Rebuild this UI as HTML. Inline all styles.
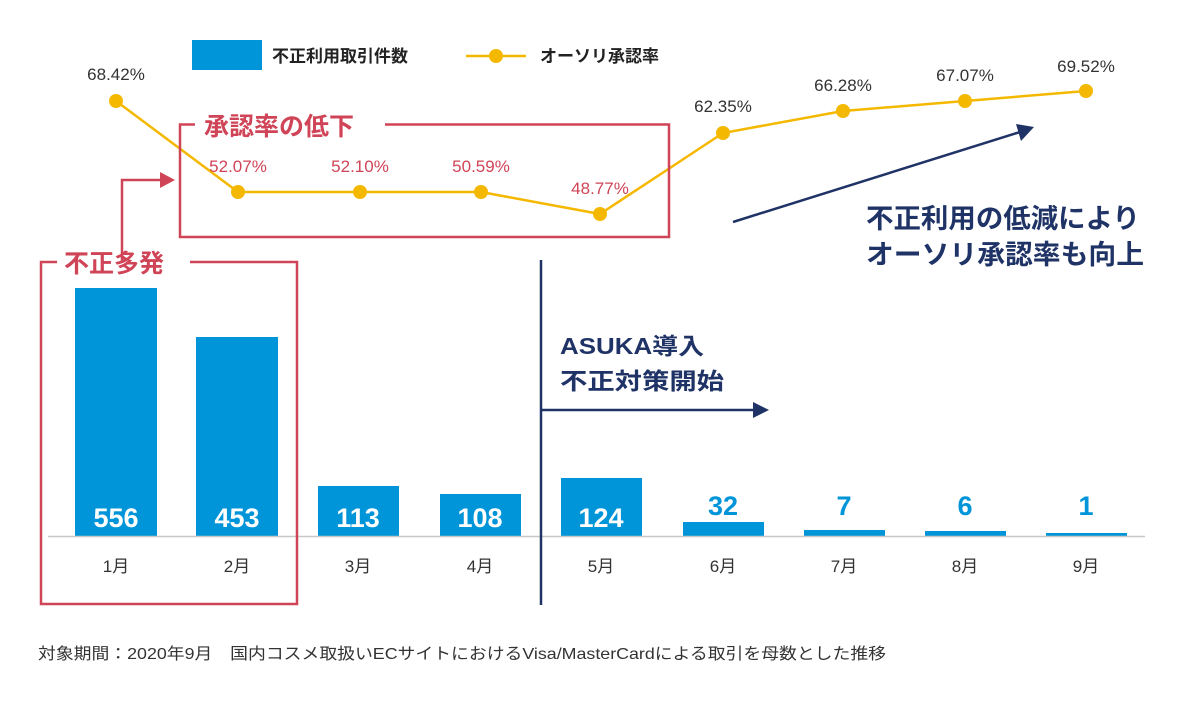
<!DOCTYPE html>
<html><head><meta charset="utf-8"><style>
body{margin:0;background:#fff;width:1200px;height:700px;overflow:hidden}
svg text{font-family:"Liberation Sans","Noto Sans CJK JP",sans-serif}
</style></head><body>
<svg width="1200" height="700" viewBox="0 0 1200 700">
<g fill="#0094d8">
<rect x="75" y="288" width="82" height="248"/>
<rect x="196" y="337" width="82" height="199"/>
<rect x="318" y="486" width="81" height="50"/>
<rect x="440" y="494" width="81" height="42"/>
<rect x="561" y="478" width="81" height="58"/>
<rect x="683" y="522" width="81" height="14"/>
<rect x="804" y="530" width="81" height="6"/>
<rect x="925" y="531" width="81" height="5"/>
<rect x="1046" y="533" width="81" height="3"/>
</g>
<line x1="48" y1="536.5" x2="1145" y2="536.5" stroke="#c8c8c8" stroke-width="1.5"/>
<g font-size="27" font-weight="bold" fill="#fff" text-anchor="middle">
<text x="116" y="527">556</text><text x="237" y="527">453</text><text x="358" y="527">113</text><text x="480" y="527">108</text><text x="601" y="527">124</text>
</g>
<g font-size="27" font-weight="bold" fill="#0094d8" text-anchor="middle">
<text x="723" y="515">32</text><text x="844" y="515">7</text><text x="965" y="515">6</text><text x="1086" y="515">1</text>
</g>
<g font-size="17" fill="#333" text-anchor="middle">
<text x="116" y="572">1月</text><text x="237" y="572">2月</text><text x="358" y="572">3月</text><text x="480" y="572">4月</text><text x="601" y="572">5月</text><text x="723" y="572">6月</text><text x="844" y="572">7月</text><text x="965" y="572">8月</text><text x="1086" y="572">9月</text>
</g>
<polyline points="116,101 238,192 360,192 481,192 600,214 723,133 843,111 965,101 1086,91" fill="none" stroke="#f5b800" stroke-width="2.5"/>
<g fill="#f5b800">
<circle cx="116" cy="101" r="7"/><circle cx="238" cy="192" r="7"/><circle cx="360" cy="192" r="7"/><circle cx="481" cy="192" r="7"/><circle cx="600" cy="214" r="7"/><circle cx="723" cy="133" r="7"/><circle cx="843" cy="111" r="7"/><circle cx="965" cy="101" r="7"/><circle cx="1086" cy="91" r="7"/>
</g>
<g font-size="17" text-anchor="middle" fill="#333">
<text x="116" y="80">68.42%</text><text x="723" y="112">62.35%</text><text x="843" y="91">66.28%</text><text x="965" y="81">67.07%</text><text x="1086" y="72">69.52%</text>
</g>
<g font-size="17" text-anchor="middle" fill="#d04457">
<text x="238" y="172">52.07%</text><text x="360" y="172">52.10%</text><text x="481" y="172">50.59%</text><text x="600" y="194">48.77%</text>
</g>
<g fill="none" stroke="#d04457" stroke-width="2.5">
<polyline points="195,124.5 180,124.5 180,237 669,237 669,124.5 385,124.5"/>
<polyline points="57,262 41,262 41,604 297,604 297,262 190,262"/>
<polyline points="122,262 122,180 162,180"/>
</g>
<polygon points="175,180 160,172 160,188" fill="#d04457"/>
<g font-size="25" font-weight="bold" fill="#d04457">
<text x="204" y="135">承認率の低下</text>
<text x="64" y="272">不正多発</text>
</g>
<line x1="541" y1="260" x2="541" y2="605" stroke="#1f3366" stroke-width="2.5"/>
<line x1="541" y1="410" x2="755" y2="410" stroke="#1f3366" stroke-width="2.5"/>
<polygon points="769,410 753,402 753,418" fill="#1f3366"/>
<line x1="733" y1="222" x2="1020" y2="132" stroke="#1f3366" stroke-width="2.5"/>
<polygon points="1034,127 1016,124 1021,141" fill="#1f3366"/>
<g font-size="23" font-weight="bold" fill="#1f3366">
<text x="560" y="354" textLength="144" lengthAdjust="spacingAndGlyphs">ASUKA導入</text>
<text x="560" y="389" textLength="164" lengthAdjust="spacingAndGlyphs">不正対策開始</text>
</g>
<g font-size="27" font-weight="bold" fill="#1f3366">
<text x="866" y="228" textLength="274" lengthAdjust="spacingAndGlyphs">不正利用の低減により</text>
<text x="866" y="264" textLength="278" lengthAdjust="spacingAndGlyphs">オーソリ承認率も向上</text>
</g>
<rect x="192" y="40" width="70" height="30" fill="#0094d8"/>
<text x="272" y="62" font-size="17" font-weight="bold" fill="#222">不正利用取引件数</text>
<line x1="466" y1="56" x2="526" y2="56" stroke="#f5b800" stroke-width="2.5"/>
<circle cx="496" cy="56" r="7" fill="#f5b800"/>
<text x="540" y="62" font-size="17" font-weight="bold" fill="#222">オーソリ承認率</text>
<text x="38" y="659" font-size="16" fill="#333" textLength="848" lengthAdjust="spacingAndGlyphs">対象期間：2020年9月　国内コスメ取扱いECサイトにおけるVisa/MasterCardによる取引を母数とした推移</text>
</svg>
</body></html>
